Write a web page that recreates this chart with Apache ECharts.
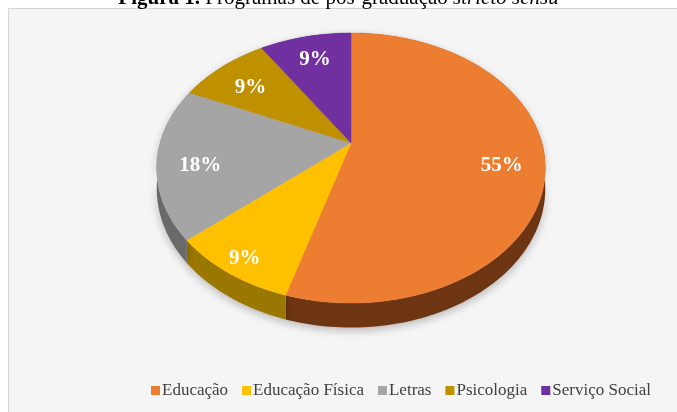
<!DOCTYPE html>
<html>
<head>
<meta charset="utf-8">
<script src="https://cdn.jsdelivr.net/npm/echarts@6/dist/echarts.min.js"></script>
<style>
  html, body { margin: 0; padding: 0; background: #fff; }
</style>
</head>
<body>
<div id="pie-chart" style="width:677px;height:412px;"></div>
<script>
// dados (11 programas no total)
const categories = ['Educação', 'Educação Física', 'Letras', 'Psicologia', 'Serviço Social']
const values = [6, 1, 2, 1, 1]
const topColors = ['#ED7D31', '#FFC000', '#A5A5A5', '#BF9000', '#7030A0']
const sideColors = ['#6e3512', '#9a7700', '#6a6a6a', '#735700', '#43206a']

const total = values.reduce(function (a, b) { return a + b }, 0)
const startAngles = []
let acc = 0
for (let i = 0; i < values.length; i++) {
  startAngles.push(acc / total * Math.PI * 2)
  acc += values[i]
}

// projeção em perspectiva do disco (ângulo 0 = topo, sentido horário)
const cx = 351
const cy = 143
const dist = 5.4
const fx = 1031
const fy = 704
const depth = 108

function proj(theta, r, drop) {
  const u = r * Math.sin(theta)
  const v = -r * Math.cos(theta)
  const z = dist - v
  return [cx + fx * u / z, cy + (fy * v + drop) / z]
}

function arc(a0, a1, drop) {
  const pts = []
  const n = Math.max(4, Math.ceil((a1 - a0) / 0.02))
  for (let k = 0; k <= n; k++) {
    pts.push(proj(a0 + (a1 - a0) * k / n, 1, drop))
  }
  return pts
}

function renderSlice(params, api) {
  const i = api.value(0)
  const a0 = startAngles[i]
  const a1 = a0 + values[i] / total * Math.PI * 2
  const topArc = arc(a0, a1, 0)
  const sidePts = topArc.concat(arc(a0, a1, depth).reverse())
  const facePts = [[cx, cy]].concat(topArc)

  // rótulo um pouco mais para fora na frente do disco
  const mid = (a0 + a1) / 2
  const rr = 0.76 + 0.15 * Math.max(0, -Math.cos(mid))
  const s = Math.sin(mid)
  const lp = proj(mid, rr, 40 * s * s)

  return {
    type: 'group',
    children: [
      {
        type: 'polygon',
        z2: 1,
        shape: { points: sidePts },
        style: {
          fill: sideColors[i],
          shadowBlur: 8,
          shadowOffsetY: 3,
          shadowColor: 'rgba(0,0,0,0.25)'
        }
      },
      {
        type: 'polygon',
        z2: 10,
        shape: { points: facePts },
        style: { fill: topColors[i], stroke: topColors[i], lineWidth: 0.5 }
      },
      {
        type: 'text',
        z2: 20,
        x: lp[0],
        y: lp[1],
        style: {
          text: Math.round(values[i] / total * 100) + '%',
          fill: '#fff',
          font: 'bold 21px "Liberation Serif"',
          align: 'center',
          verticalAlign: 'middle'
        }
      }
    ]
  }
}

const chart = echarts.init(document.getElementById('pie-chart'))

const series = categories.map(function (name, i) {
  return {
    name: name,
    type: 'custom',
    coordinateSystem: 'none',
    itemStyle: { color: topColors[i] },
    renderItem: renderSlice,
    silent: true,
    data: [[i]]
  }
})

const option = {
  animation: false,
  title: {
    text: '{b|Figura 1.} Programas de pós-graduação {i|stricto sensu}',
    left: 'center',
    top: -17,
    textStyle: {
      fontFamily: 'Liberation Serif',
      fontSize: 21,
      fontWeight: 'normal',
      color: '#000',
      rich: {
        b: { fontFamily: 'Liberation Serif', fontSize: 21, fontWeight: 'bold', color: '#000' },
        i: { fontFamily: 'Liberation Serif', fontSize: 21, fontStyle: 'italic', color: '#000' }
      }
    }
  },
  graphic: [
    {
      type: 'rect',
      z: -10,
      shape: { x: 8.5, y: 8.5, width: 700, height: 420 },
      style: { fill: '#f5f5f5', stroke: '#d6d6d6', lineWidth: 1 }
    }
  ],
  legend: {
    data: categories,
    bottom: 8,
    left: 146,
    icon: 'rect',
    itemWidth: 9,
    itemHeight: 9,
    itemGap: 14,
    textStyle: {
      fontFamily: 'Liberation Serif',
      fontSize: 17,
      color: '#404040',
      padding: [0, 0, 0, -3]
    }
  },
  series: series
}

chart.setOption(option)
</script>
</body>
</html>
